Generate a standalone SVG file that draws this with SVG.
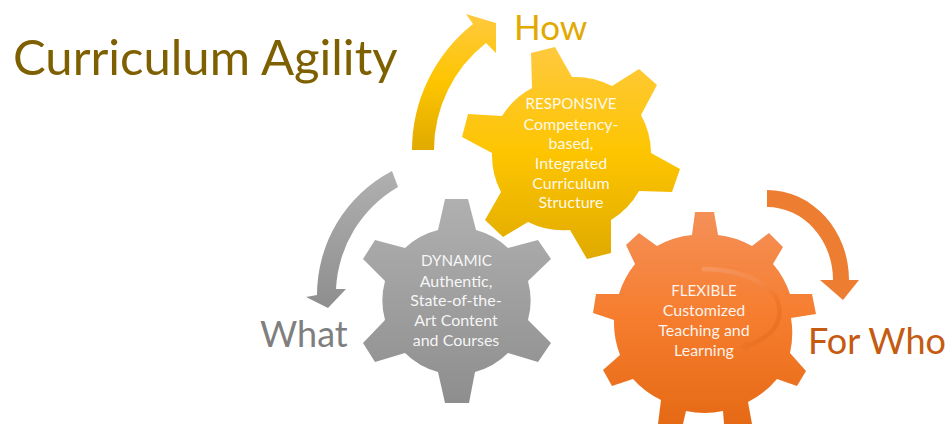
<svg xmlns="http://www.w3.org/2000/svg" width="949" height="424" viewBox="0 0 949 424">
<style>
text{font-family:Lato,"Open Sans","Liberation Sans",sans-serif}
.g{font-size:16px;fill:#fff;fill-opacity:.92;text-anchor:middle}
.c{font-size:15.2px}
.h{font-size:36px}
</style>
<defs>
<linearGradient id="y" x1="0" y1="0" x2="0" y2="1"><stop offset="0" stop-color="#ffc93f"/><stop offset=".5" stop-color="#fdc500"/><stop offset="1" stop-color="#e0aa00"/></linearGradient>
<linearGradient id="a" x1="0" y1="0" x2="0" y2="1"><stop offset="0" stop-color="#b0b0b0"/><stop offset="1" stop-color="#8e8e8e"/></linearGradient>
<linearGradient id="o" x1="0" y1="0" x2="0" y2="1"><stop offset="0" stop-color="#f49058"/><stop offset=".5" stop-color="#f67d2e"/><stop offset="1" stop-color="#e66a15"/></linearGradient>
<linearGradient id="f" gradientUnits="userSpaceOnUse" x1="702" y1="268" x2="770" y2="345"><stop offset="0" stop-color="#f69660"/><stop offset=".45" stop-color="#f58a4b"/><stop offset=".7" stop-color="#f0782c"/><stop offset="1" stop-color="#e96f1c"/></linearGradient>
</defs>
<g id="connectors">
<path fill="url(#y)" d="M412 150A161 161 0 0 1 473 24L466 14L496 23V53L486 43A136 136 0 0 0 434 150Z"/>
<path fill="url(#a)" d="M392 171L398 187A125 125 0 0 0 336 289H346L328 308L306 297L317 295A140 140 0 0 1 392 171Z"/>
<path fill="#ed7d31" d="M767 190V207A66 73 0 0 1 833 280H859L843 300L820 280H849A82 90 0 0 0 767 190Z"/>
</g>
<g id="gear-dynamic">
<path fill="url(#a)" d="M445 199H468L476 230A74 74 0 0 1 508 248L538 240L551 259L528 281A74 74 0 0 1 528 320L551 343L538 362L508 353A74 74 0 0 1 475 372L469 403H445L438 372A74 74 0 0 1 405 353L375 362L363 343L385 320A74 74 0 0 1 385 281L363 259L375 240L405 248A74 74 0 0 1 438 230Z"/>
<text class="g"><tspan class="c" x="456.500" y="266">DYNAMIC</tspan><tspan x="456" y="287">Authentic,</tspan><tspan x="456" y="306">State-of-the-</tspan><tspan x="456" y="326">Art Content</tspan><tspan x="456" y="346">and Courses</tspan></text>
</g>
<g id="gear-responsive">
<path fill="url(#y)" d="M531 53L555 47L572 77A79 79 0 0 1 612 86L639 69L657 85L641 115A79 79 0 0 1 651 153L680 169L672 192L639 191A79 79 0 0 1 611 220V253L587 259L570 230A79 79 0 0 1 528 222L503 237L485 220L501 192A79 79 0 0 1 492 153L462 137L468 114L502 116A79 79 0 0 1 532 88Z"/>
<text class="g"><tspan class="c" x="571" y="109">RESPONSIVE</tspan><tspan x="571" y="130">Competency-</tspan><tspan x="571" y="149">based,</tspan><tspan x="571" y="169">Integrated</tspan><tspan x="571" y="189">Curriculum</tspan><tspan x="571" y="208">Structure</tspan></text>
</g>
<g id="gear-flexible">
<path fill="url(#o)" d="M695 212H714L718 235A89 89 0 0 1 752 246L769 233L783 247L773 264A89 89 0 0 1 790 294H812L816 314L791 318A89 89 0 0 1 790 353L806 371L797 386L777 379A89 89 0 0 1 748 402L752 424H724L723 411A89 89 0 0 1 686 411L683 424H658L661 400A89 89 0 0 1 633 379L612 386L603 370L620 355A89 89 0 0 1 614 320L593 313L596 294H619A89 89 0 0 1 635 264L626 245L639 233L657 246A89 89 0 0 1 692 235Z"/>
<path fill="none" stroke="url(#f)" stroke-width="4.500" d="M702 269C730 269 755 276 772 292C782 303 782 320 772 331C764 339 755 343 746 346"/>
<path fill="url(#f)" d="M747 341L739 347L748 351Z"/>
<text class="g"><tspan class="c" x="704" y="296">FLEXIBLE</tspan><tspan x="704" y="316">Customized</tspan><tspan x="704" y="336">Teaching and</tspan><tspan x="704" y="356">Learning</tspan></text>
</g>
<text x="13" y="75" font-size="49" fill="#7f6000">Curriculum Agility</text>
<text x="514" y="40" font-size="35" fill="#e2aa00">How</text>
<text class="h" x="260" y="347" fill="#7f7f7f">What</text>
<text class="h" x="808" y="354" fill="#c55a11">For Who</text>
</svg>
